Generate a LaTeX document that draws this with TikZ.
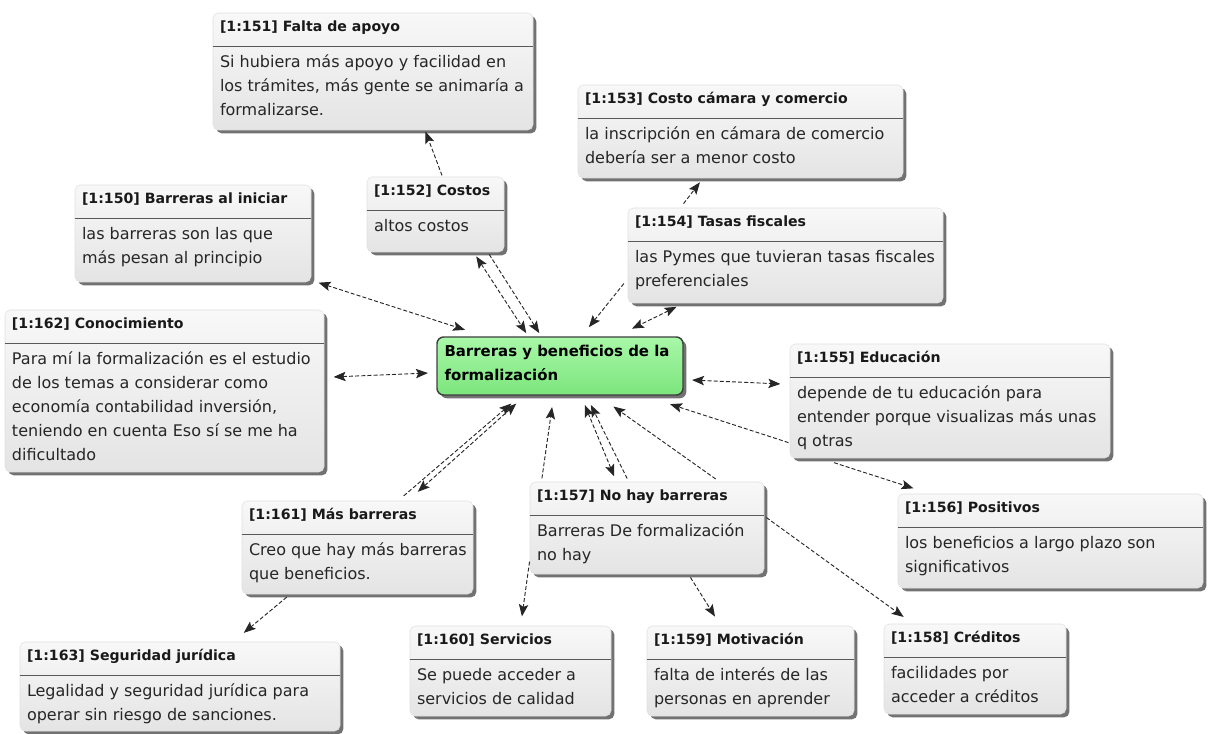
\documentclass[tikz,border=0pt]{standalone}
\usepackage{fontspec}
\setmainfont{DejaVu Sans}
\usetikzlibrary{arrows.meta,fit,shadows}

\definecolor{cajaarriba}{HTML}{F8F8F8}
\definecolor{cajaabajo}{HTML}{E4E4E4}
\definecolor{verdearriba}{HTML}{A8F8A8}
\definecolor{verdeabajo}{HTML}{7CE57C}

\tikzset{
  citabox/.style={inner sep=0pt, rounded corners=4pt, draw=black!12,
    top color=cajaarriba, bottom color=cajaabajo,
    drop shadow={shadow xshift=2.5pt, shadow yshift=-2.5pt, fill=black!65, opacity=0.85}},
  citatitulo/.style={inner sep=0pt, font=\bfseries\fontsize{10.6}{13}\selectfont, text=black!90},
  citatexto/.style={inner sep=0pt, align=left, font=\fontsize{12}{18}\selectfont, text=black!85},
  citaregla/.style={line width=1.1pt, black!65},
  centro/.style={inner sep=0pt, rounded corners=5pt, draw=black!75, line width=1.1pt,
    top color=verdearriba, bottom color=verdeabajo,
    drop shadow={shadow xshift=2.5pt, shadow yshift=-2.5pt, fill=black!65, opacity=0.85}},
  enlace/.style={line width=0.7pt, black!85, dash pattern=on 3pt off 1.6pt, shorten >=1pt, shorten <=1pt},
  flecha/.style={-{Stealth[length=9pt,width=7pt,inset=1.8pt]}},
  doble/.style={{Stealth[length=9pt,width=7pt,inset=1.8pt]}-{Stealth[length=9pt,width=7pt,inset=1.8pt]}}
}

% nombre, esquina, esquina, titulo, texto
\newcommand{\cita}[5]{%
  \node[citabox, fit={(#2) (#3)}] (#1) {};
  \node[citatitulo, anchor=base west] (#1t) at ([shift={(7,19)}]#1.north west) {#4};
  \draw[citaregla] ([shift={(0,34)}]#1.north west) -- ([shift={(0,34)}]#1.north east);
  \node[citatexto, anchor=north west] (#1c) at ([shift={(7,38)}]#1.north west) {\strut #5};
}

\begin{document}
\begin{tikzpicture}[x=0.75pt, y=-0.75pt]
  \useasboundingbox (0,0) rectangle (1215,734);

  % cajas
  \cita{b151}{213,13}{533,130}{[1:151] Falta de apoyo}{Si hubiera más apoyo y facilidad en\\los trámites, más gente se animaría a\\formalizarse.}
  \cita{b153}{578,85}{903,178}{[1:153] Costo cámara y comercio}{la inscripción en cámara de comercio\\debería ser a menor costo}
  \cita{b152}{367,177}{504,252}{[1:152] Costos}{altos costos}
  \cita{b150}{75,185}{311,282}{[1:150] Barreras al iniciar}{las barreras son las que\\más pesan al principio}
  \cita{b154}{628,208}{943,303}{[1:154] Tasas fiscales}{las Pymes que tuvieran tasas fiscales\\preferenciales}
  \cita{b162}{5,310}{324,472}{[1:162] Conocimiento}{Para mí la formalización es el estudio\\de los temas a considerar como\\economía contabilidad inversión,\\teniendo en cuenta Eso sí se me ha\\dificultado}
  \cita{b155}{790,344}{1110,458}{[1:155] Educación}{depende de tu educación para\\entender porque visualizas más unas\\q otras}
  \cita{b157}{530,482}{764,574}{[1:157] No hay barreras}{Barreras De formalización\\no hay}
  \cita{b161}{242,501}{473,594}{[1:161] Más barreras}{Creo que hay más barreras\\que beneficios.}
  \cita{b156}{898,494}{1203,588}{[1:156] Positivos}{los beneficios a largo plazo son\\significativos}
  \cita{b163}{20,642}{340,731}{[1:163] Seguridad jurídica}{Legalidad y seguridad jurídica para\\operar sin riesgo de sanciones.}
  \cita{b160}{410,626}{611,716}{[1:160] Servicios}{Se puede acceder a\\servicios de calidad}
  \cita{b159}{647,626}{854,716}{[1:159] Motivación}{falta de interés de las\\personas en aprender}
  \cita{b158}{884,624}{1066,714}{[1:158] Créditos}{facilidades por\\acceder a créditos}

  \node[centro, fit={(437,337) (683,395)}] (centro) {};
  \node[citatexto, font=\bfseries\fontsize{11.2}{18}\selectfont, text=black, anchor=north west] (centrot)
    at ([shift={(8,3)}]centro.north west) {\strut Barreras y beneficios de la\\formalización};

  % enlaces
  \draw[enlace, flecha] ([shift={(7,0)}]b152.north) -- ([shift={(52,0)}]b151.south);
  \draw[enlace, doble] ([shift={(40,3)}]b152.south) -- ([shift={(-33,-2)}]centro.north);
  \draw[enlace, flecha] ([shift={(53,1)}]b152.south) -- ([shift={(-20,-2)}]centro.north);
  \draw[enlace, doble] ([shift={(6,0)}]b150.south east) -- ([shift={(30,-6)}]centro.north west);
  \draw[enlace, doble] ([shift={(8,-14)}]b162.east) -- ([shift={(-7,7)}]centro.west);
  \draw[enlace, flecha] ([shift={(-3,27)}]b154.west) -- ([shift={(28,-8)}]centro.north);
  \draw[enlace, doble] ([shift={(50,3)}]b154.south west) -- ([shift={(-53,-7)}]centro.north east);
  \draw[enlace, flecha] ([shift={(55,-3)}]b154.north west) -- ([shift={(123,3)}]b153.south west);
  \draw[enlace, doble] ([shift={(7,14)}]centro.east) -- ([shift={(-8,-17)}]b155.west);
  \draw[enlace, flecha] ([shift={(0,42)}]b155.west) -- ([shift={(-15,8)}]centro.south east);
  \draw[enlace, flecha] ([shift={(43,4)}]b155.south west) -- ([shift={(17,-5)}]b156.north west);
  \draw[enlace, doble] ([shift={(85,-4)}]b157.north west) -- ([shift={(148,8)}]centro.south west);
  \draw[enlace, flecha] ([shift={(98,-2)}]b157.north west) -- ([shift={(154,8)}]centro.south west);
  \draw[enlace, flecha] ([shift={(12,-2)}]b157.north west) -- ([shift={(116,10)}]centro.south west);
  \draw[enlace, flecha] ([shift={(187,-2)}]b157.north west) -- ([shift={(176,10)}]centro.south west);
  \draw[enlace, doble] ([shift={(175,-8)}]b161.north west) -- ([shift={(81,7)}]centro.south west);
  \draw[enlace, flecha] ([shift={(161,-4)}]b161.north west) -- ([shift={(76,7)}]centro.south west);
  \draw[enlace, flecha] ([shift={(46,2)}]b161.south west) -- ([shift={(223,-8)}]b163.north west);
  \draw[enlace, flecha] ([shift={(0,-14)}]b157.south west) -- ([shift={(112,-8)}]b160.north west);
  \draw[enlace, flecha] ([shift={(160,2)}]b157.south west) -- ([shift={(69,-8)}]b159.north west);
  \draw[enlace, flecha] ([shift={(1,35)}]b157.north east) -- ([shift={(21,-6)}]b158.north west);
\end{tikzpicture}
\end{document}
